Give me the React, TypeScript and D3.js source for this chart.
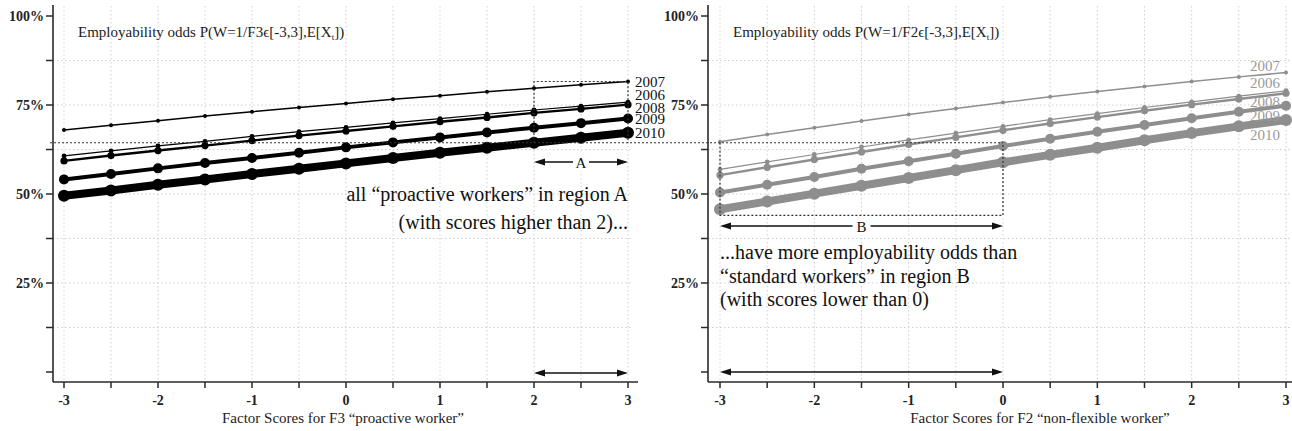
import React from "react";
import * as d3 from "d3";

const scores = [-3, -2.5, -2, -1.5, -1, -0.5, 0, 0.5, 1, 1.5, 2, 2.5, 3];
const years = ["2010", "2009", "2008", "2006", "2007"];

// Panel F3 "proactive worker" (percent)
const f3_2006 = [60.7, 62.1, 63.5, 64.8, 66.2, 67.5, 68.7, 70.0, 71.2, 72.4, 73.6, 74.7, 75.8];
const f3_2007 = [68.0, 69.3, 70.6, 71.9, 73.1, 74.3, 75.4, 76.6, 77.6, 78.7, 79.7, 80.7, 81.6];
const f3_2008 = [59.3, 60.8, 62.2, 63.6, 65.0, 66.4, 67.7, 69.0, 70.3, 71.5, 72.8, 73.9, 75.1];
const f3_2009 = [54.1, 55.6, 57.2, 58.7, 60.1, 61.6, 63.1, 64.5, 65.9, 67.3, 68.6, 69.9, 71.2];
const f3_2010 = [49.5, 51.0, 52.6, 54.1, 55.6, 57.1, 58.6, 60.1, 61.6, 63.0, 64.4, 65.8, 67.2];

// Panel F2 "non-flexible worker" (percent)
const f2_2006 = [56.9, 59.0, 61.1, 63.2, 65.2, 67.1, 69.0, 70.9, 72.6, 74.3, 75.9, 77.5, 79.0];
const f2_2007 = [64.7, 66.7, 68.6, 70.5, 72.3, 74.0, 75.7, 77.3, 78.8, 80.2, 81.6, 82.9, 84.1];
const f2_2008 = [55.3, 57.5, 59.7, 61.8, 63.9, 65.9, 67.9, 69.8, 71.6, 73.4, 75.1, 76.7, 78.3];
const f2_2009 = [50.4, 52.6, 54.8, 57.1, 59.2, 61.3, 63.5, 65.5, 67.5, 69.4, 71.3, 73.1, 74.8];
const f2_2010 = [45.7, 47.9, 50.1, 52.3, 54.5, 56.7, 58.9, 61.0, 63.0, 65.1, 67.1, 69.0, 70.8];

const yTicksMajor = [100, 75, 50, 25];
const yTicksAll = [0, 12.5, 25, 37.5, 50, 62.5, 75, 87.5, 100];
const xTicksMajor = [-3, -2, -1, 0, 1, 2, 3];

const f3Series: Record<string, number[]> = { "2006": f3_2006, "2007": f3_2007, "2008": f3_2008, "2009": f3_2009, "2010": f3_2010 };
const f2Series: Record<string, number[]> = { "2006": f2_2006, "2007": f2_2007, "2008": f2_2008, "2009": f2_2009, "2010": f2_2010 };

const boxBBottom = 44;

const lineW: Record<string, number> = { "2007": 1.5, "2006": 1.2, "2008": 2.4, "2009": 4, "2010": 8 };
const dotR: Record<string, number> = { "2007": 2, "2006": 2.4, "2008": 3.6, "2009": 5, "2010": 6 };
const leftLabelDy: Record<string, number> = { "2007": 0.5, "2006": -7, "2008": 3.5, "2009": 0.5, "2010": 0.5 };
const rightLabelDy: Record<string, number> = { "2007": -6.5, "2006": -8, "2008": 8.5, "2009": 10.5, "2010": 15 };

const FONT = "'Liberation Serif', 'Times New Roman', serif";
const W = 1292, H = 431;
const yScale = d3.scaleLinear().domain([0, 100]).range([372, 16]);
const axisY = 382;

function Arrow({ x1, x2, y, color = "#111" }: { x1: number; x2: number; y: number; color?: string }) {
  const hl = 11, hw = 3.5;
  return (
    <g>
      <line x1={x1 + 4} x2={x2 - 4} y1={y} y2={y} stroke={color} strokeWidth={1.6} />
      <path d={`M${x1},${y} L${x1 + hl},${y - hw} L${x1 + hl},${y + hw} Z`} fill={color} />
      <path d={`M${x2},${y} L${x2 - hl},${y - hw} L${x2 - hl},${y + hw} Z`} fill={color} />
    </g>
  );
}

function Panel({ axisX, x0, x1, series, color, labelColor, labelX, labelDy, title, xTitle, xTitleX }: any) {
  const xScale = d3.scaleLinear().domain([-3, 3]).range([x0, x1]);
  const line = d3.line<number>().x((_, i) => xScale(scores[i])).y((v) => yScale(v));
  const gridEnd = x1 + 4;
  return (
    <g>
      {/* grid */}
      {scores.map((s) => (
        <line key={"gx" + s} x1={xScale(s)} x2={xScale(s)} y1={6} y2={axisY} stroke="#cfcfcf" strokeWidth={1} strokeDasharray="1.5,2.5" />
      ))}
      {yTicksAll.filter((t) => t > 0 && t < 100).map((t) => (
        <line key={"gy" + t} x1={axisX} x2={gridEnd} y1={yScale(t)} y2={yScale(t)} stroke="#cfcfcf" strokeWidth={1} strokeDasharray="1.5,2.5" />
      ))}
      {/* axes */}
      <line x1={axisX} x2={axisX} y1={5} y2={axisY} stroke="#2a2a2a" strokeWidth={1.6} />
      <line x1={axisX} x2={x1 + 10} y1={axisY} y2={axisY} stroke="#2a2a2a" strokeWidth={1.6} />
      {yTicksAll.map((t) => (
        <line key={"yt" + t} x1={axisX - 7} x2={axisX} y1={yScale(t)} y2={yScale(t)} stroke="#2a2a2a" strokeWidth={1.5} />
      ))}
      {yTicksMajor.map((t) => (
        <text key={"yl" + t} x={axisX - 9} y={yScale(t) + 5} textAnchor="end" fontFamily={FONT} fontSize={14} fontWeight="bold" fill="#222">{t}%</text>
      ))}
      {scores.map((s) => (
        <line key={"xt" + s} x1={xScale(s)} x2={xScale(s)} y1={axisY} y2={axisY + 6} stroke="#2a2a2a" strokeWidth={1.5} />
      ))}
      {xTicksMajor.map((s) => (
        <text key={"xl" + s} x={xScale(s)} y={axisY + 23} textAnchor="middle" fontFamily={FONT} fontSize={14} fontWeight="bold" fill="#222">{s}</text>
      ))}
      <text x={xTitleX} y={423} textAnchor="middle" fontFamily={FONT} fontSize={15} fill="#222">{xTitle}</text>
      <text x={axisX + 25} y={37} fontFamily={FONT} fontSize={15} fill="#222">
        {title}
        <tspan>[-3,3],E[X</tspan>
        <tspan fontSize={9} dy={3}>t</tspan>
        <tspan dy={-3}>])</tspan>
      </text>
      {/* series */}
      {years.map((yr) => (
        <g key={yr}>
          <path d={line(series[yr]) || ""} fill="none" stroke={color} strokeWidth={lineW[yr]} strokeLinejoin="round" strokeLinecap="round" />
          {series[yr].map((v: number, i: number) => (
            <circle key={i} cx={xScale(scores[i])} cy={yScale(v)} r={dotR[yr]} fill={color} />
          ))}
        </g>
      ))}
      {years.map((yr) => (
        <text key={"lab" + yr} x={labelX} y={yScale(series[yr][12]) + labelDy[yr] + 5} fontFamily={FONT} fontSize={15} fill={labelColor}>{yr}</text>
      ))}
    </g>
  );
}

export default function App() {
  const xL = d3.scaleLinear().domain([-3, 3]).range([64, 628]);
  const xR = d3.scaleLinear().domain([-3, 3]).range([720, 1286]);
  const refY = yScale(f3_2010[10]);
  const topA = yScale(f3_2007[12]);
  const botB = yScale(boxBBottom);
  const dot = { stroke: "#333", strokeWidth: 1.2, strokeDasharray: "2,2", fill: "none" };
  return (
    <svg width={W} height={H} style={{ position: "absolute", left: 0, top: 0, background: "#fff" }}>
      <rect width={W} height={H} fill="#fff" />
      <Panel axisX={53} x0={64} x1={628} series={f3Series} color="#000" labelColor="#111" labelX={635} labelDy={leftLabelDy}
        title="Employability odds P(W=1/F3ϵ" xTitle="Factor Scores for F3 “proactive worker”" xTitleX={343} />
      <Panel axisX={708} x0={720} x1={1286} series={f2Series} color="#8e8e8e" labelColor="#9a9a9a" labelX={1250} labelDy={rightLabelDy}
        title="Employability odds P(W=1/F2ϵ" xTitle="Factor Scores for F2 “non-flexible worker”" xTitleX={1040} />
      {/* reference dotted line and boxes */}
      <line x1={50} x2={xR(0)} y1={refY} y2={refY} {...dot} />
      <path d={`M${xL(2)},${refY} L${xL(2)},${topA} L${xL(3)},${topA} L${xL(3)},${refY}`} {...dot} />
      <path d={`M${xR(-3)},${refY} L${xR(-3)},${botB} L${xR(0)},${botB} L${xR(0)},${refY}`} {...dot} />
      {/* arrows */}
      <Arrow x1={xL(2)} x2={xL(3)} y={162} />
      <rect x={(xL(2) + xL(3)) / 2 - 8} y={153} width={16} height={18} fill="#fff" />
      <text x={(xL(2) + xL(3)) / 2} y={168} textAnchor="middle" fontFamily={FONT} fontSize={15} fill="#111">A</text>
      <Arrow x1={xR(-3)} x2={xR(0)} y={226} />
      <rect x={(xR(-3) + xR(0)) / 2 - 9} y={217} width={18} height={18} fill="#fff" />
      <text x={(xR(-3) + xR(0)) / 2} y={232} textAnchor="middle" fontFamily={FONT} fontSize={15} fill="#111">B</text>
      <Arrow x1={xL(2)} x2={xL(3)} y={373} />
      <Arrow x1={xR(-3)} x2={xR(0)} y={372} />
      {/* annotations */}
      <text x={xL(3)} y={201} textAnchor="end" fontFamily={FONT} fontSize={20} fill="#111">all “proactive workers” in region A</text>
      <text x={xL(3)} y={229} textAnchor="end" fontFamily={FONT} fontSize={20} fill="#111">(with scores higher than 2)...</text>
      <text x={xR(-3)} y={259} fontFamily={FONT} fontSize={20} fill="#111">...have more employability odds than</text>
      <text x={xR(-3)} y={283} fontFamily={FONT} fontSize={20} fill="#111">“standard workers” in region B</text>
      <text x={xR(-3)} y={306} fontFamily={FONT} fontSize={20} fill="#111">(with scores lower than 0)</text>
    </svg>
  );
}
